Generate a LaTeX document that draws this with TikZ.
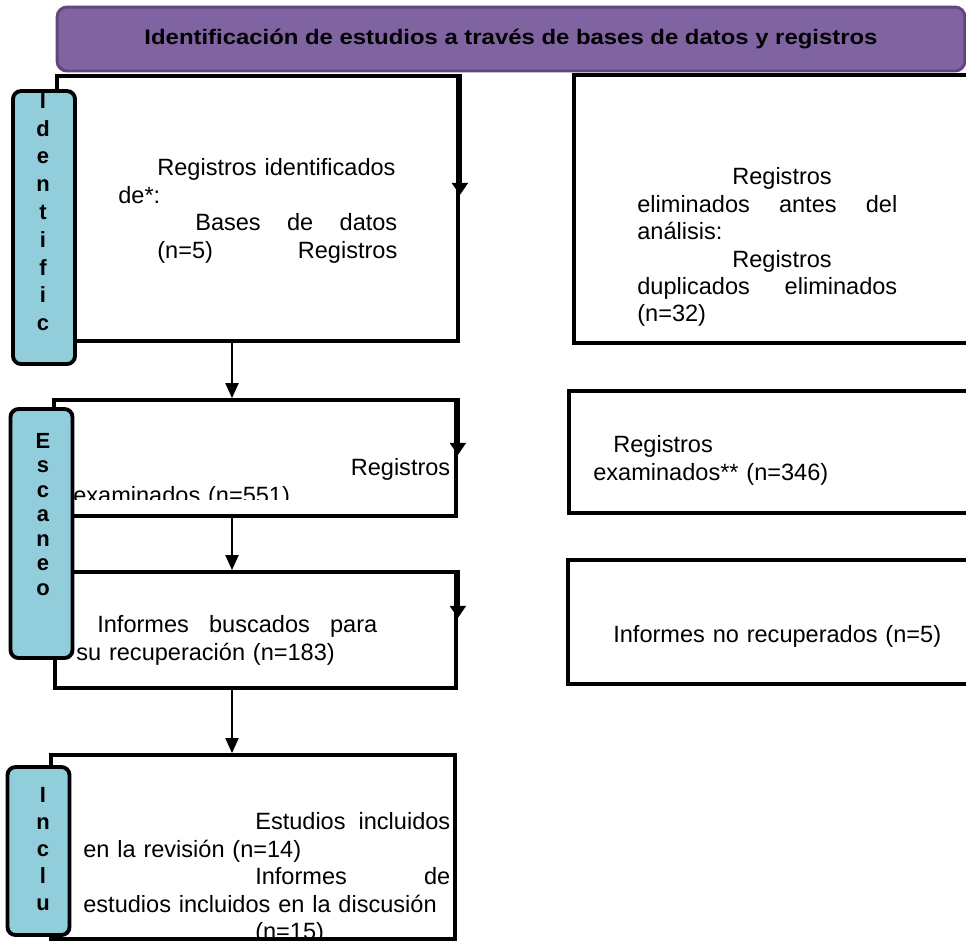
\documentclass[tikz,border=0pt]{standalone}
\usepackage{fontspec}
\setmainfont{Liberation Sans}
\usepackage{graphicx}
\usepackage{tikz}
\usetikzlibrary{arrows.meta,calc}
\definecolor{PrismaPurple}{HTML}{8064A2}
\definecolor{PrismaPurpleDark}{HTML}{5F497A}
\definecolor{PrismaAqua}{HTML}{92CDDC}
\newcommand{\jline}[1]{\hbox to\linewidth{#1}}

\begin{document}
\begin{tikzpicture}[x=0.02cm,y=-0.02cm,
    box/.style={draw,line width=2.2pt,minimum width=#1,inner sep=0pt},
    tag/.style={draw,line width=2.2pt,rounded corners=0.16cm,fill=PrismaAqua,
        minimum width=1.24cm,inner sep=0pt},
    letters/.style={anchor=north,inner sep=0pt,align=center,
        font=\bfseries\fontsize{12.5pt}{#1}\selectfont},
    txt/.style={anchor=north west,inner sep=0pt,text width=#1,align=left,
        font=\fontsize{13.4pt}{15.6pt}\selectfont},
    flow/.style={line width=1.1pt,-{Triangle[width=7.4pt,length=8.5pt]}},
    edgearrow/.style={line width=2.2pt,-{Triangle[width=9pt,length=7pt]}}]
  \clip (0,0) rectangle (966,941);
  % header
  \node[draw=PrismaPurpleDark,line width=1.7pt,fill=PrismaPurple,rounded corners=0.2cm,
        minimum width=18.16cm,minimum height=1.28cm] (head) at (511,39)
        {\scalebox{1}[0.88]{\bfseries\fontsize{13.6pt}{16pt}\selectfont
         Identificación de estudios a través de bases de datos y registros}};
  % boxes
  \node[box=8.02cm,minimum height=5.30cm] (ident) at (257.5,208.5) {};
  \node[box=8.32cm,minimum height=5.36cm] (elim) at (782,209) {};
  \node[box=8.04cm,minimum height=2.32cm] (exam) at (255,458) {};
  \node[box=8.42cm,minimum height=2.44cm] (excl) at (779.5,452) {};
  \node[box=8.02cm,minimum height=2.32cm] (busc) at (255.5,630) {};
  \node[box=8.44cm,minimum height=2.48cm] (norec) at (779,622) {};
  \node[box=8.08cm,minimum height=3.68cm] (incl) at (253,847) {};
  % arrows on the right edges
  \draw[edgearrow] (ident.north east) -- ($(ident.north east)+(0,121)$);
  \draw[edgearrow] (exam.north east) -- ($(exam.north east)+(0,57)$);
  \draw[edgearrow] (busc.north east) -- ($(busc.north east)+(0,48)$);
  % flow down
  \coordinate (ax) at (232,0);
  \draw[flow] (ident.south -| ax) -- (exam.north -| ax);
  \draw[flow] (exam.south -| ax) -- (busc.north -| ax);
  \draw[flow] (busc.south -| ax) -- (incl.north -| ax);
  % side tags
  \node[tag,minimum height=5.46cm] (tagId) at (44,227.5) {};
  \node[tag,minimum height=4.98cm] (tagEs) at (41.5,533.5) {};
  \node[tag,minimum height=3.36cm] (tagIn) at (38.5,851) {};
  \node[letters=15.8pt] (lettId) at (43,93) {I\\d\\e\\n\\t\\i\\f\\i\\c};
  \node[letters=13.9pt] (lettEs) at (43,433) {E\\s\\c\\a\\n\\e\\o};
  \node[letters=15.3pt] (lettIn) at (43,787) {I\\n\\c\\l\\u};
  % texts
  \node[txt=5.58cm] (tIdent) at (118,158.5) {%
    \jline{\hspace*{0.78cm}Registros identificados\hfil}
    \jline{de*:\hfil}
    \jline{\hspace*{1.54cm}Bases\hfill de\hfill datos}
    \jline{\hspace*{0.78cm}(n=5)\hfill Registros}};
  \node[txt=5.2cm] (tElim) at (637,167.5) {%
    \jline{\hspace*{1.9cm}Registros\hfil}
    \jline{eliminados\hfill antes\hfill del}
    \jline{análisis:\hfil}
    \jline{\hspace*{1.9cm}Registros\hfil}
    \jline{duplicados\hfill eliminados}
    \jline{(n=32)\hfil}};
  \begin{scope}
    \clip (exam.north west) rectangle ($(exam.south east)+(0,-18)$);
    \node[txt=7.54cm] (tExam) at (73,458.5) {%
      \jline{\hfill Registros}
      \jline{examinados (n=551)\hfil}};
  \end{scope}
  \node[txt=6cm] (tExcl) at (593,435.5) {%
    \jline{\hspace*{0.4cm}Registros\hfil}
    \jline{examinados** (n=346)\hfil}};
  \node[txt=6.02cm] (tBusc) at (76,615.5) {%
    \jline{\hspace*{0.42cm}Informes\hfill buscados\hfill para}
    \jline{su recuperación (n=183)\hfil}};
  \node[txt=7cm] (tNorec) at (613,625.5) {Informes no recuperados (n=5)};
  \begin{scope}
    \clip (incl.north west) rectangle ($(incl.south east)+(0,-4)$);
    \node[txt=7.34cm] (tIncl) at (83,812.5) {%
      \jline{\hspace*{3.44cm}Estudios\hfill incluidos}
      \jline{en la revisión (n=14)\hfil}
      \jline{\hspace*{3.44cm}Informes\hfill de}
      \jline{estudios incluidos en la discusión\hfil}
      \jline{\hspace*{3.44cm}(n=15)\hfil}};
  \end{scope}
\end{tikzpicture}
\end{document}
